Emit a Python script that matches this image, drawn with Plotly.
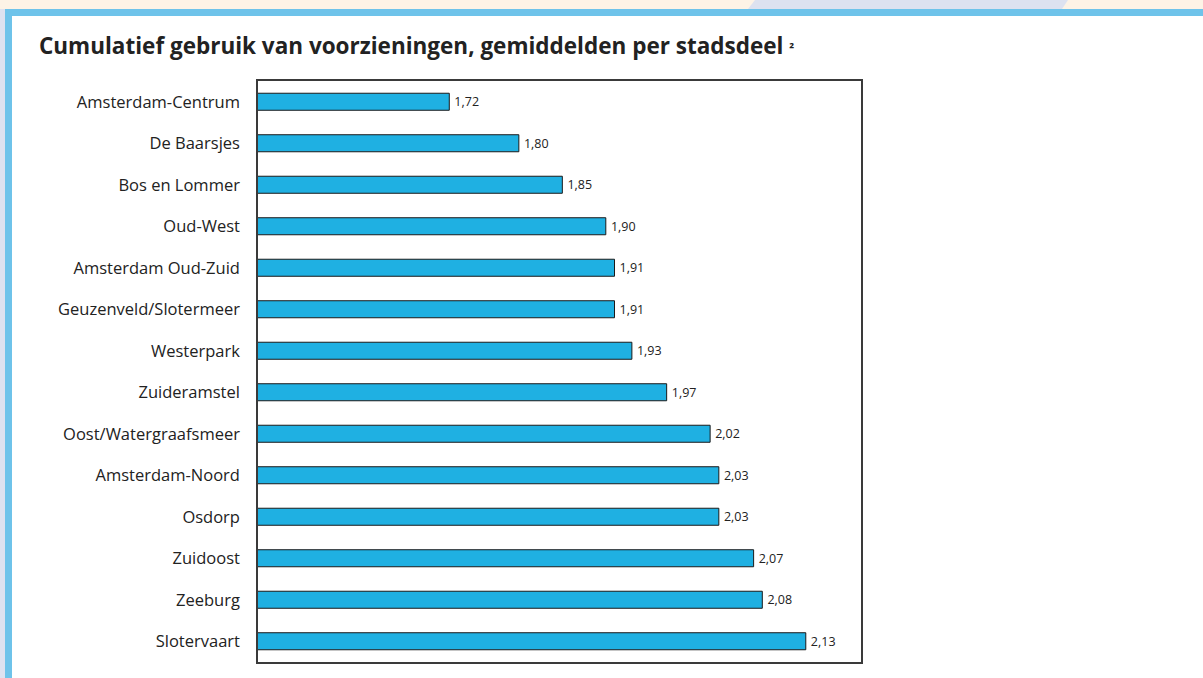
import plotly.graph_objects as go

districts = ["Amsterdam-Centrum", "De Baarsjes", "Bos en Lommer", "Oud-West",
             "Amsterdam Oud-Zuid", "Geuzenveld/Slotermeer", "Westerpark", "Zuideramstel",
             "Oost/Watergraafsmeer", "Amsterdam-Noord", "Osdorp", "Zuidoost",
             "Zeeburg", "Slotervaart"]
averages = [1.72, 1.80, 1.85, 1.90, 1.91, 1.91, 1.93, 1.97, 2.02, 2.03, 2.03, 2.07, 2.08, 2.13]
value_labels = ["1,72", "1,80", "1,85", "1,90", "1,91", "1,91", "1,93", "1,97",
                "2,02", "2,03", "2,03", "2,07", "2,08", "2,13"]
title_text = "Cumulatief gebruik van voorzieningen, gemiddelden per stadsdeel <span style='font-size:13px'>²</span>"

W, H = 1203, 678
L, R, T, B = 258, 861, 81, 662

def px(x):
    return (x - L) / (R - L)

def py(y):
    return (B - y) / (B - T)

fig = go.Figure(go.Bar(
    x=averages, y=districts, orientation="h",
    marker=dict(color="#1fb0e2", line=dict(color="#1a1a1a", width=1)),
    width=0.41,
    text=value_labels, textposition="outside",
    texttemplate="\u2009%{text}",
    textfont=dict(size=12.5, color="#222222", family="Open Sans"),
    cliponaxis=False,
))

shapes = [
    dict(type="rect", xref="paper", yref="paper", x0=px(0), x1=px(W), y0=py(0), y1=py(9),
         fillcolor="#fdf3e6", line=dict(width=0), layer="below"),
    dict(type="path", xref="paper", yref="paper",
         path=f"M {px(755)} {py(0)} L {px(1068)} {py(0)} L {px(1062)} {py(9)} L {px(748)} {py(9)} Z",
         fillcolor="#dde2f0", line=dict(width=0), layer="below"),
    dict(type="rect", xref="paper", yref="paper", x0=px(0), x1=px(5), y0=py(9), y1=py(H),
         fillcolor="#dde2f0", line=dict(width=0), layer="below"),
    dict(type="rect", xref="paper", yref="paper", x0=px(5), x1=px(W), y0=py(9), y1=py(16),
         fillcolor="#6ec3ea", line=dict(width=0), layer="below"),
    dict(type="rect", xref="paper", yref="paper", x0=px(5), x1=px(12), y0=py(9), y1=py(H),
         fillcolor="#6ec3ea", line=dict(width=0), layer="below"),
]

fig.update_layout(
    width=W, height=H,
    margin=dict(l=L, r=W - R, t=T, b=H - B, pad=0),
    paper_bgcolor="white", plot_bgcolor="white",
    showlegend=False,
    shapes=shapes,
    font=dict(family="Open Sans", color="#222222"),
    annotations=[dict(text=title_text, xref="paper", yref="paper", x=px(37), y=py(46),
                      xanchor="left", yanchor="middle", showarrow=False,
                      font=dict(size=22.5, family="Open Sans", color="#222222", weight="bold"))],
)
fig.update_xaxes(range=[1.5, 2.1935], showticklabels=False, ticks="", showgrid=False,
                 zeroline=False, showline=True, mirror=True, linecolor="#3a3a3a", linewidth=1.5)
fig.update_yaxes(autorange="reversed", showgrid=False, ticks="", ticklabelstandoff=13,
                 tickfont=dict(size=16.5, family="Open Sans", color="#222222"),
                 showline=True, mirror=True, linecolor="#3a3a3a", linewidth=1.5)

fig.write_html("out.html", config={"displayModeBar": False},
               post_script="document.body.style.margin='0';document.body.style.padding='0';")
